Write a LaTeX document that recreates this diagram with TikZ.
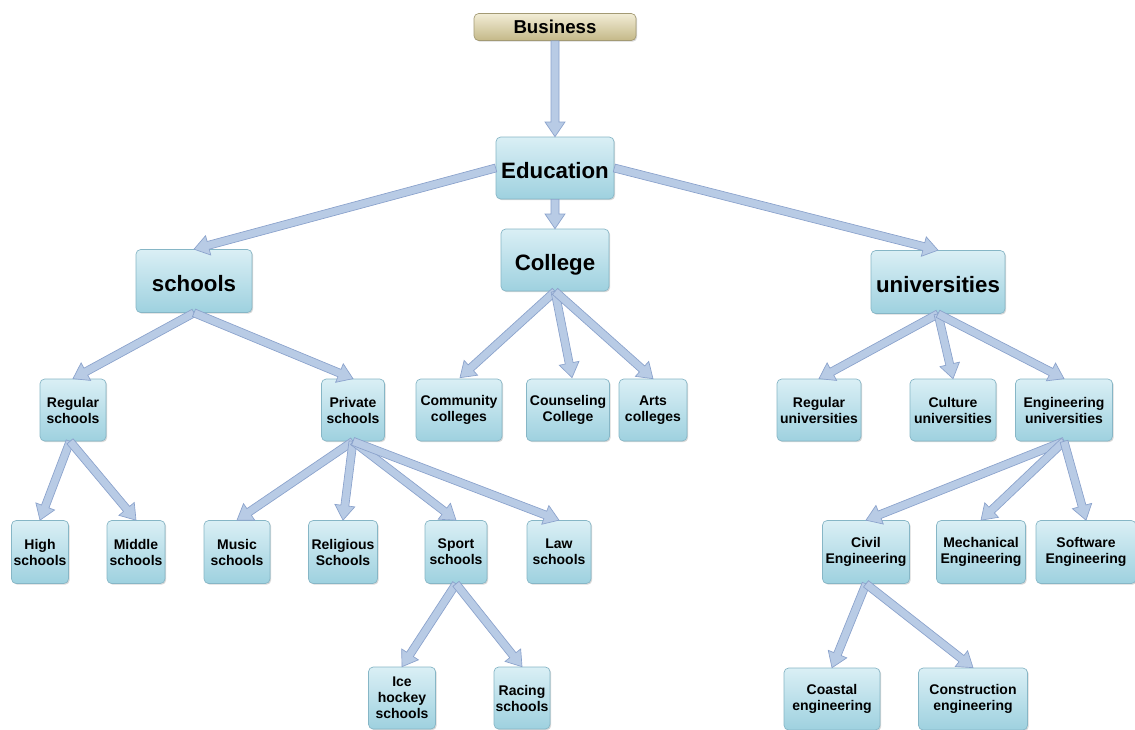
\documentclass[tikz,border=0pt]{standalone}
\usepackage{fontspec}
\setmainfont{Liberation Sans}
\usetikzlibrary{calc,shadows}
\definecolor{boxtop}{HTML}{DAEFF5}
\definecolor{boxbot}{HTML}{9ED1DF}
\definecolor{boxline}{HTML}{86B6C6}
\definecolor{arfill}{HTML}{B8CBE5}
\definecolor{arline}{HTML}{8AA2CC}
\definecolor{btop}{HTML}{F2EDD6}
\definecolor{bbot}{HTML}{C4B888}
\definecolor{bline}{HTML}{A39A74}
\tikzset{
  box/.style={draw=boxline, line width=0.5pt, rounded corners=3.5pt,
    top color=boxtop, bottom color=boxbot, inner sep=0pt, align=center,
    font=\bfseries\fontsize{10.5}{12}\selectfont,
    drop shadow={opacity=0.3, shadow xshift=0.9pt, shadow yshift=-0.9pt},
    minimum height=62*0.75pt},
  bigbox/.style={box, font=\bfseries\fontsize{16.7}{20}\selectfont,
    text height=17pt, text depth=2pt},
  bizbox/.style={box, top color=btop, bottom color=bbot, draw=bline,
    font=\bfseries\fontsize{14}{16}\selectfont, minimum height=27*0.75pt},
  w/.style={minimum width=#1*0.75pt},
  blockarrow/.style={draw=arline, fill=arfill, line width=0.5pt, line join=miter}
}
% block arrow from #1 to #2
\newcommand\blockarr[2]{%
  \path (#2) coordinate (ArB) ($(#2)!11pt!(#1)$) coordinate (ArH);
  \draw[blockarrow] ($(#1)!3pt!90:(ArB)$) -- ($(ArH)!3pt!90:(ArB)$)
    -- ($(ArH)!7.5pt!90:(ArB)$) -- (ArB) -- ($(ArH)!7.5pt!-90:(ArB)$)
    -- ($(ArH)!3pt!-90:(ArB)$) -- ($(#1)!3pt!-90:(ArB)$) -- cycle;}
\begin{document}
\begin{tikzpicture}[x=0.75pt, y=-0.75pt]
\useasboundingbox (0,0) rectangle (1135,729);
\clip (0,0) rectangle (1135,729);
\fill[white] (0,0) rectangle (1135,729);
% level 0-1
\node[bizbox, w=162] (biz) at (555,27) {Business};
\node[bigbox, w=118] (edu) at (555,168) {Education};
\node[bigbox, w=108] (col) at (555,260) {College};
\node[bigbox, w=116, minimum height=63*0.75pt] (sch) at (194,281) {schools};
\node[bigbox, w=134, minimum height=63*0.75pt] (uni) at (938,282) {universities};
% level 2
\node[box, w=66] (reg) at (73,410) {Regular\\schools};
\node[box, w=63] (pri) at (353,410) {Private\\schools};
\node[box, w=86] (com) at (459,410) {Community\\colleges};
\node[box, w=83] (cou) at (568,410) {Counseling\\College};
\node[box, w=68] (art) at (653,410) {Arts\\colleges};
\node[box, w=84] (runi) at (819,410) {Regular\\universities};
\node[box, w=86] (cul) at (953,410) {Culture\\universities};
\node[box, w=97] (eng) at (1064,410) {Engineering\\universities};
% level 3
\node[box, w=57, minimum height=63*0.75pt] (high) at (40,552) {High\\schools};
\node[box, w=58, minimum height=63*0.75pt] (mid) at (136,552) {Middle\\schools};
\node[box, w=66, minimum height=63*0.75pt] (mus) at (237,552) {Music\\schools};
\node[box, w=69, minimum height=63*0.75pt] (rel) at (343,552) {Religious\\Schools};
\node[box, w=62, minimum height=63*0.75pt] (spo) at (456,552) {Sport\\schools};
\node[box, w=64, minimum height=63*0.75pt] (law) at (559,552) {Law\\schools};
\node[box, w=87, minimum height=63*0.75pt] (civ) at (866,552) {Civil\\Engineering};
\node[box, w=89, minimum height=63*0.75pt] (mec) at (981,552) {Mechanical\\Engineering};
\node[box, w=100, minimum height=63*0.75pt] (sof) at (1086,552) {Software\\Engineering};
% level 4
\node[box, w=67] (ice) at (402,698) {Ice\\hockey\\schools};
\node[box, w=56] (rac) at (522,698) {Racing\\schools};
\node[box, w=96] (coa) at (832,699) {Coastal\\engineering};
\node[box, w=109] (con) at (973,699) {Construction\\engineering};
% arrows
\blockarr{biz.south}{edu.north}
\blockarr{edu.west}{sch.north}
\blockarr{edu.east}{uni.north}
\blockarr{edu.south}{col.north}
\blockarr{sch.south}{reg.north}
\blockarr{sch.south}{pri.north}
\blockarr{col.south}{$(com.north)+(1,-1)$}
\blockarr{col.south}{$(cou.north)+(4,-1)$}
\blockarr{col.south}{art.north}
\blockarr{uni.south}{runi.north}
\blockarr{uni.south}{cul.north}
\blockarr{uni.south}{eng.north}
\blockarr{$(reg.south)+(-3,0)$}{high.north}
\blockarr{$(reg.south)+(-3,0)$}{mid.north}
\blockarr{pri.south}{mus.north}
\blockarr{pri.south}{rel.north}
\blockarr{pri.south}{spo.north}
\blockarr{pri.south}{law.north}
\blockarr{spo.south}{ice.north}
\blockarr{spo.south}{rac.north}
\blockarr{eng.south}{civ.north}
\blockarr{eng.south}{mec.north}
\blockarr{eng.south}{sof.north}
\blockarr{civ.south}{coa.north}
\blockarr{civ.south}{con.north}
\end{tikzpicture}
\end{document}
